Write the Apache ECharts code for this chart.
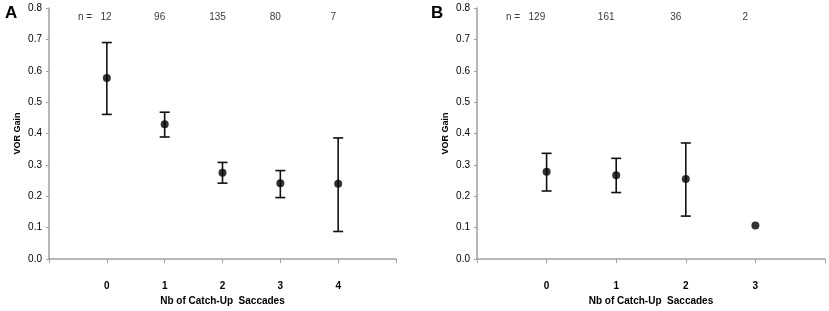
<!DOCTYPE html>
<html>
<head>
<meta charset="utf-8">
<script src="https://cdn.jsdelivr.net/npm/echarts@6/dist/echarts.min.js"></script>
<style>
  html, body { margin: 0; padding: 0; background: #fff; }
  #chart { width: 829px; height: 311px; }
</style>
</head>
<body>
<div id="chart"></div>
<script>
// panel A: catch-up saccades vs VOR gain
let catA = [0, 1, 2, 3, 4]
let meanA = [0.577, 0.430, 0.275, 0.242, 0.240]
let lowA = [0.461, 0.389, 0.242, 0.196, 0.088]
let highA = [0.690, 0.468, 0.308, 0.282, 0.386]
let nA = [12, 96, 135, 80, 7]

// panel B
let catB = [0, 1, 2, 3]
let meanB = [0.278, 0.267, 0.255, 0.107]
let lowB = [0.217, 0.212, 0.137, null]
let highB = [0.337, 0.321, 0.370, null]
let nB = [129, 161, 36, 2]

let yTicks = [0, 0.1, 0.2, 0.3, 0.4, 0.5, 0.6, 0.7, 0.8]

let font = 'Liberation Sans, Arial, sans-serif'
let axisGray = '#a0a0a0'
let ink = '#000'

function xAxisOf (idx, max, cats) {
  return {
    type: 'value', gridIndex: idx, min: -1, max: max, interval: 1,
    axisLine: { onZero: false, lineStyle: { color: axisGray, width: 1.5 } },
    axisTick: { show: true, length: 4, lineStyle: { color: axisGray } },
    splitLine: { show: false },
    axisLabel: {
      margin: 22, fontFamily: font, fontSize: 10, fontWeight: 'bold', color: ink,
      formatter: v => cats.indexOf(v) >= 0 ? String(v) : ''
    },
    name: 'Nb of Catch-Up  Saccades', nameLocation: 'middle', nameGap: 36,
    nameTextStyle: { fontFamily: font, fontSize: 10, fontWeight: 'bold', color: ink }
  }
}

function yAxisOf (idx) {
  return {
    type: 'value', gridIndex: idx, min: yTicks[0], max: yTicks[yTicks.length - 1], interval: 0.1,
    axisLine: { show: true, onZero: false, lineStyle: { color: axisGray, width: 1.5 } },
    axisTick: { show: true, length: 3, lineStyle: { color: axisGray } },
    splitLine: { show: false },
    axisLabel: { fontFamily: font, fontSize: 10, color: ink, margin: 7, formatter: v => v.toFixed(1) },
    name: 'VOR Gain', nameLocation: 'middle', nameGap: 27, nameRotate: 90,
    nameTextStyle: { fontFamily: font, fontSize: 9, fontWeight: 'bold', color: ink }
  }
}

function errorSeries (idx, cats, low, high) {
  let data = cats.map((c, i) => [c, low[i], high[i]]).filter(d => d[1] != null)
  return {
    type: 'custom', xAxisIndex: idx, yAxisIndex: idx, data: data, z: 3,
    renderItem: function (params, api) {
      let lo = api.coord([api.value(0), api.value(1)])
      let hi = api.coord([api.value(0), api.value(2)])
      let w = 5
      let style = { stroke: '#111', lineWidth: 1.6 }
      return {
        type: 'group',
        children: [
          { type: 'line', shape: { x1: lo[0], y1: lo[1], x2: hi[0], y2: hi[1] }, style: style },
          { type: 'line', shape: { x1: lo[0] - w, y1: lo[1], x2: lo[0] + w, y2: lo[1] }, style: style },
          { type: 'line', shape: { x1: hi[0] - w, y1: hi[1], x2: hi[0] + w, y2: hi[1] }, style: style }
        ]
      }
    }
  }
}

function meanSeries (idx, cats, mean) {
  return {
    type: 'scatter', xAxisIndex: idx, yAxisIndex: idx, z: 4,
    symbol: 'circle', symbolSize: 8,
    itemStyle: { color: '#000' },
    data: cats.map((c, i) => [c, mean[i]])
  }
}

// n counts along the top, first one carries the "n =" prefix
function countSeries (idx, cats, counts, shift, firstShift) {
  return {
    type: 'scatter', xAxisIndex: idx, yAxisIndex: idx, symbolSize: 0, silent: true,
    data: cats.map((c, i) => ({
      value: [c, 0.77],
      label: {
        show: true, position: 'inside', offset: [i === 0 ? firstShift : shift, 0],
        formatter: i === 0 ? 'n =   ' + counts[i] : String(counts[i]),
        fontFamily: font, fontSize: 10, color: ink
      }
    }))
  }
}

let chart = echarts.init(document.getElementById('chart'))
chart.setOption({
  animation: false,
  backgroundColor: '#fff',
  grid: [
    { left: 49, right: 433, top: 8, bottom: 48 },
    { left: 477, right: 4, top: 8, bottom: 49 }
  ],
  xAxis: [xAxisOf(0, 5, catA), xAxisOf(1, 4, catB)],
  yAxis: [yAxisOf(0), yAxisOf(1)],
  graphic: [
    { type: 'text', left: 5, top: 5, style: { text: 'A', font: 'bold 17px ' + font, fill: '#000' } },
    { type: 'text', left: 431, top: 5, style: { text: 'B', font: 'bold 17px ' + font, fill: '#000' } }
  ],
  series: [
    errorSeries(0, catA, lowA, highA),
    meanSeries(0, catA, meanA),
    countSeries(0, catA, nA, -5, -12),
    errorSeries(1, catB, lowB, highB),
    meanSeries(1, catB, meanB),
    countSeries(1, catB, nB, -10, -21)
  ]
})
</script>
</body>
</html>
